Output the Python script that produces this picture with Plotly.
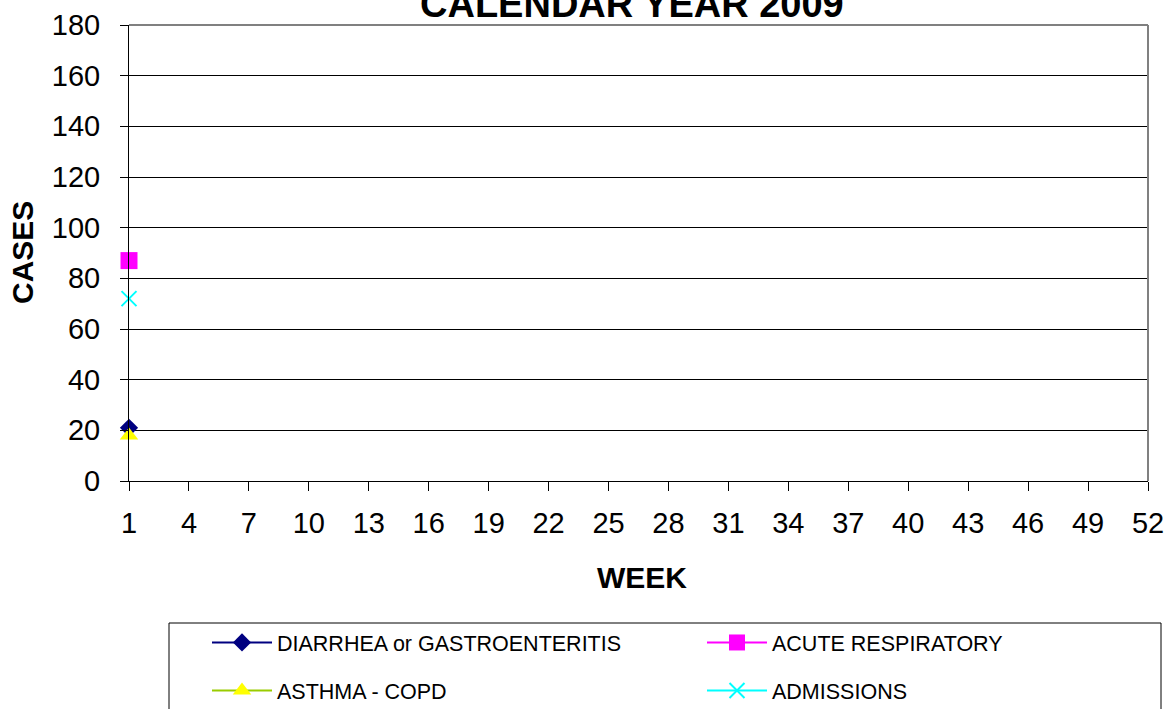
import plotly.graph_objects as go

# ---- data ----
weeks_tick = [1, 4, 7, 10, 13, 16, 19, 22, 25, 28, 31, 34, 37, 40, 43, 46, 49, 52]
y_ticks = [0, 20, 40, 60, 80, 100, 120, 140, 160, 180]

week_obs = [1]
diarrhea = [21]
acute_resp = [87]
asthma = [18]
admissions = [72]

series_names = ["DIARRHEA or GASTROENTERITIS", "ACUTE RESPIRATORY", "ASTHMA - COPD", "ADMISSIONS"]

FONT = "Liberation Sans, Arial, sans-serif"

fig = go.Figure()

fig.add_trace(go.Scatter(
    x=week_obs, y=diarrhea, name=series_names[0], mode="lines+markers",
    line=dict(color="#000080", width=2),
    marker=dict(symbol="diamond", size=14, color="#000080"),
    cliponaxis=False, legend="legend", legendgroup="a"))
fig.add_trace(go.Scatter(
    x=week_obs, y=asthma, name=series_names[2], mode="lines+markers",
    line=dict(color="#99CC00", width=2),
    marker=dict(symbol="triangle-up", size=16, color="#FFFF00"),
    cliponaxis=False, legend="legend", legendgroup="c"))
fig.add_trace(go.Scatter(
    x=week_obs, y=acute_resp, name=series_names[1], mode="lines+markers",
    line=dict(color="#FF00FF", width=2),
    marker=dict(symbol="square", size=17, color="#FF00FF"),
    cliponaxis=False, legend="legend2", legendgroup="b"))
fig.add_trace(go.Scatter(
    x=week_obs, y=admissions, name=series_names[3], mode="lines+markers",
    line=dict(color="#00FFFF", width=2),
    marker=dict(symbol="x-thin", size=15, color="#00FFFF", line=dict(color="#00FFFF", width=2)),
    cliponaxis=False, legend="legend2", legendgroup="d"))

W, H = 1169, 709
L, R, T, B = 129, 21, 25, 228
pw, ph = W - L - R, H - T - B

def px_x(x):
    return (x - L) / pw

def px_y(y):
    return (H - B - y) / ph

legend_common = dict(
    orientation="v", xanchor="left", yanchor="top",
    font=dict(family=FONT, size=21.5, color="black"),
    bgcolor="rgba(0,0,0,0)", borderwidth=0, tracegroupgap=17,
    itemwidth=60,
)

fig.update_layout(
    width=W, height=H,
    margin=dict(l=L, r=R, t=T, b=B, autoexpand=False),
    paper_bgcolor="white", plot_bgcolor="white",
    font=dict(family=FONT, color="black"),
    showlegend=True,
    legend=dict(x=px_x(207), y=px_y(622), **legend_common),
    legend2=dict(x=px_x(702), y=px_y(622), **legend_common),
    xaxis=dict(
        range=[1, 52], tickmode="array", tickvals=weeks_tick,
        ticktext=[str(v) for v in weeks_tick],
        ticks="outside", ticklen=9, tickcolor="black", tickwidth=1,
        showline=True, linecolor="black", linewidth=1,
        showgrid=False, zeroline=False,
        tickfont=dict(family=FONT, size=29, color="black"),
        ticklabelstandoff=7,
    ),
    yaxis=dict(
        range=[0, 180], tickmode="array", tickvals=y_ticks,
        ticktext=[str(v) for v in y_ticks],
        ticks="outside", ticklen=8, tickcolor="black", tickwidth=1,
        showline=True, linecolor="black", linewidth=1,
        showgrid=True, gridcolor="black", gridwidth=1, zeroline=False,
        tickfont=dict(family=FONT, size=29, color="black"),
        ticklabelstandoff=14,
    ),
    annotations=[
        dict(text="<b>CALENDAR YEAR 2009</b>", xref="paper", yref="paper",
             x=px_x(632), y=px_y(4), xanchor="center", yanchor="middle",
             showarrow=False, font=dict(family=FONT, size=38, color="black")),
        dict(text="<b>WEEK</b>", xref="paper", yref="paper",
             x=px_x(642), y=px_y(577), xanchor="center", yanchor="middle",
             showarrow=False, font=dict(family=FONT, size=30, color="black")),
        dict(text="<b>CASES</b>", xref="paper", yref="paper",
             x=px_x(22), y=px_y(253), xanchor="center", yanchor="middle",
             textangle=-90, showarrow=False,
             font=dict(family=FONT, size=30, color="black")),
    ],
    shapes=[
        # gray top and right plot border
        dict(type="line", xref="paper", yref="paper", x0=0, x1=1, y0=1, y1=1,
             line=dict(color="#808080", width=2)),
        dict(type="line", xref="paper", yref="paper", x0=1, x1=1, y0=0, y1=1,
             line=dict(color="#808080", width=2)),
        # legend frame
        dict(type="rect", xref="paper", yref="paper",
             x0=px_x(169), x1=px_x(1161), y0=px_y(623), y1=px_y(712),
             line=dict(color="black", width=1), fillcolor="rgba(0,0,0,0)"),
    ],
)

fig.write_html(
    "out.html",
    config={"displayModeBar": False},
    post_script="document.body.style.margin='0px';document.body.style.overflow='hidden';",
)
